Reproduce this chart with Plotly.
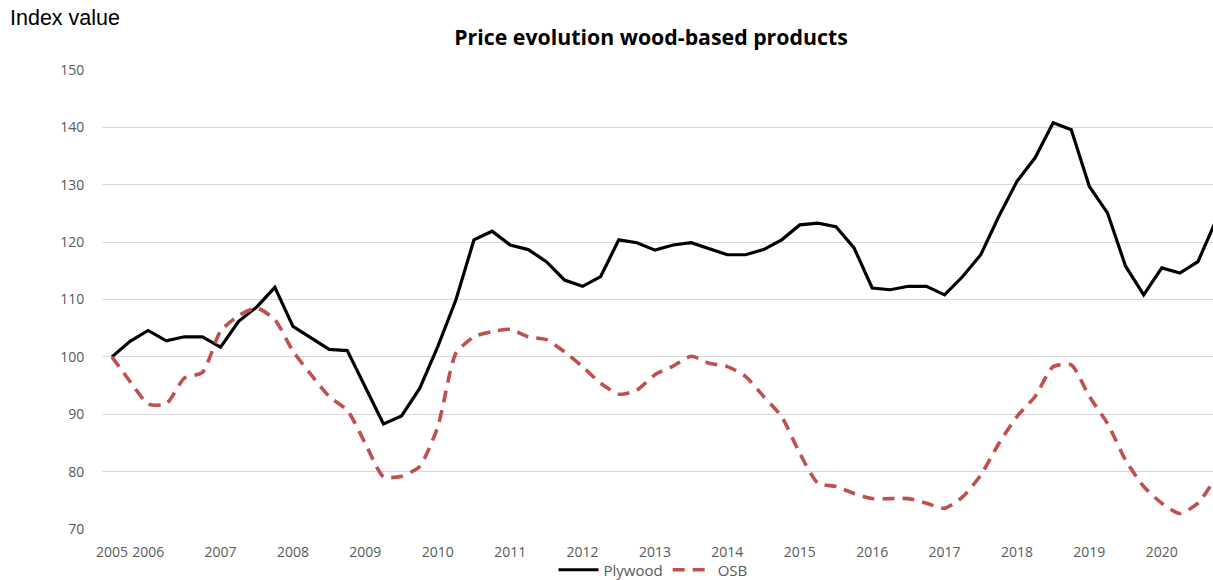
import plotly.graph_objects as go

# Quarterly observations (index 0 = first quarter shown)
quarter_index = list(range(62))

plywood = [100, 102.7, 104.6, 102.8, 103.5, 103.5, 101.7, 106.2, 108.7, 112.1,
           105.3, 103.3, 101.3, 101.1, 94.8, 88.3, 89.7, 94.5, 101.8, 109.9,
           120.4, 121.9, 119.5, 118.7, 116.6, 113.4, 112.3, 114.0, 120.4, 119.9,
           118.6, 119.5, 119.9, 118.8, 117.8, 117.8, 118.7, 120.4, 123.0, 123.3,
           122.7, 119.0, 112.0, 111.7, 112.3, 112.3, 110.8, 114.0, 117.8, 124.5,
           130.6, 134.7, 140.8, 139.6, 129.7, 125.1, 115.8, 110.8, 115.5, 114.6,
           116.6, 123.8]

osb = [100, 95.7, 91.8, 91.8, 96.3, 97.3, 104.5, 107.2, 108.5, 106.5,
       101.0, 96.9, 93.1, 90.7, 84.9, 79.1, 79.2, 80.9, 87.8, 100.6,
       103.5, 104.4, 104.8, 103.5, 103.0, 100.9, 98.3, 95.4, 93.5, 94.2,
       96.9, 98.4, 100.1, 98.9, 98.3, 96.6, 93.1, 89.6, 83.2, 78.0,
       77.4, 76.2, 75.3, 75.3, 75.3, 74.5, 73.6, 75.6, 79.4, 84.9,
       89.6, 93.1, 98.3, 98.6, 93.1, 88.4, 82.0, 77.4, 74.5, 72.7,
       74.5, 79.0]

year_labels = ["2005", "2006", "2007", "2008", "2009", "2010", "2011", "2012",
               "2013", "2014", "2015", "2016", "2017", "2018", "2019", "2020"]
year_label_pos = [0, 2, 6, 10, 14, 18, 22, 26, 30, 34, 38, 42, 46, 50, 54, 58]

y_ticks = [70, 80, 90, 100, 110, 120, 130, 140, 150]

# figure is slightly taller than the window (legend sits at the very bottom edge as in the original)
W, H = 1213, 600
ML, MR, MT, MB = 102, 0, 70, 71
PW, PH = W - ML - MR, H - MT - MB

fig = go.Figure()
fig.add_trace(go.Scatter(
    x=quarter_index, y=plywood, name="Plywood", mode="lines",
    line=dict(color="#000000", width=3.2),
))
fig.add_trace(go.Scatter(
    x=quarter_index, y=osb, name="OSB", mode="lines",
    line=dict(color="#C0504D", width=3.6, dash="12px,8px", shape="spline", smoothing=0.6),
))

fig.update_layout(
    width=W, height=H,
    margin=dict(l=ML, r=MR, t=MT, b=MB),
    paper_bgcolor="white", plot_bgcolor="white",
    title=dict(text="<b>Price evolution wood-based products</b>",
               x=651 / W, xanchor="center", y=1 - 38 / H, yanchor="middle",
               font=dict(family="Open Sans", size=21.3, color="#000000")),
    showlegend=True,
    legend=dict(orientation="h", x=(653 - ML) / PW, xanchor="center",
                y=-(570 - (MT + PH)) / PH, yanchor="middle",
                font=dict(family="Open Sans", size=15, color="#595959"),
                itemwidth=40, bgcolor="rgba(0,0,0,0)"),
    xaxis=dict(range=[-0.55, 60.83], tickmode="array", tickvals=year_label_pos,
               ticktext=year_labels, tickangle=0, showgrid=False, zeroline=False,
               showline=False, ticks="outside", ticklen=10, tickcolor="rgba(0,0,0,0)",
               tickfont=dict(family="Open Sans", size=14, color="#595959")),
    yaxis=dict(range=[70, 150], tickmode="array", tickvals=y_ticks,
               showgrid=True, gridcolor="#D9D9D9", gridwidth=1, zeroline=False,
               showline=False, ticks="outside", ticklen=14, tickcolor="rgba(0,0,0,0)",
               tickfont=dict(family="Open Sans", size=14, color="#595959")),
    annotations=[dict(text="Index value", xref="paper", yref="paper",
                      x=(8 - ML) / PW, y=1 + (MT - 18) / PH,
                      xanchor="left", yanchor="middle", showarrow=False,
                      font=dict(family="Liberation Sans", size=21.5, color="#000000"))],
)

fig.write_html(
    "out.html",
    config={"displayModeBar": False},
    post_script=("document.documentElement.style.overflow='hidden';"
                 "document.body.style.margin='0';document.body.style.overflow='hidden';"),
)
